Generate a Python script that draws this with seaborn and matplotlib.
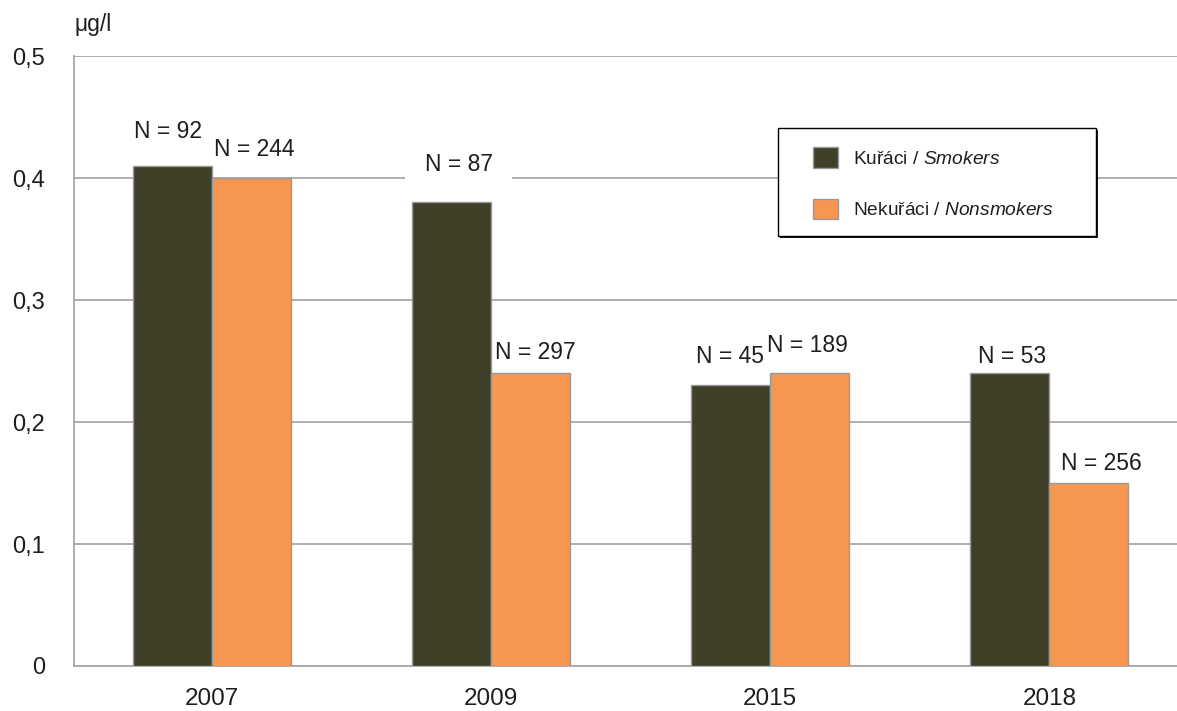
import pandas as pd
import seaborn as sns
import matplotlib.pyplot as plt
from matplotlib.patches import Rectangle

# Data
years = ['2007', '2009', '2015', '2018']
smokers = [0.41, 0.38, 0.23, 0.24]
nonsmokers = [0.40, 0.24, 0.24, 0.15]
n_smokers = [92, 87, 45, 53]
n_nonsmokers = [244, 297, 189, 256]
groups = ['Kuřáci / $\\it{Smokers}$', 'Nekuřáci / $\\it{Nonsmokers}$']
yticks = [0, 0.1, 0.2, 0.3, 0.4, 0.5]
ytick_labels = ['0', '0,1', '0,2', '0,3', '0,4', '0,5']

# label offsets in pixels (dx, dy) from each bar top, and white box padding
off_smokers = [(-4, 34), (7, 38), (-1, 29), (2, 17)]
off_nonsmokers = [(3, 28), (5, 21), (-2, 28), (12, 20)]
pad_smokers = [1.5, 14, 1.5, 1.5]
pad_nonsmokers = [1.5, 1.5, 1.5, 1.5]

df = pd.DataFrame({
    'year': years * 2,
    'value': smokers + nonsmokers,
    'group': [groups[0]] * 4 + [groups[1]] * 4,
})

sns.set_style('white')
plt.rcParams['font.family'] = ['Liberation Sans', 'DejaVu Sans']
plt.rcParams['mathtext.fontset'] = 'custom'
plt.rcParams['mathtext.rm'] = 'Liberation Sans'
plt.rcParams['mathtext.it'] = 'Liberation Sans:italic'

W, H = 1177, 711
grid_col = '#A8A8A8'
txt_col = '#1E1E1E'

fig = plt.figure(figsize=(W / 100, H / 100), dpi=100)
ax = fig.add_axes([74 / W, 45 / H, (1189 - 74) / W, 610 / H])

sns.barplot(data=df, x='year', y='value', hue='group',
            palette=['#404029', '#F79650'], saturation=1, width=0.566,
            edgecolor='#9A9A9A', linewidth=1, ax=ax, zorder=3)

ax.set_xlim(-0.494, 3.5)
ax.set_ylim(0, 0.5)
ax.set_yticks(yticks)
ax.set_yticklabels(ytick_labels)
ax.set_xlabel('')
ax.set_ylabel('')
ax.yaxis.grid(True, color=grid_col, linewidth=1.3, zorder=0)
ax.set_axisbelow(True)
for s in ['top', 'right']:
    ax.spines[s].set_visible(False)
for s in ['left', 'bottom']:
    ax.spines[s].set_color(grid_col)
    ax.spines[s].set_linewidth(1.3)
ax.tick_params(axis='y', length=8, width=1.3, color=grid_col, pad=13,
               labelsize=17, labelcolor=txt_col)
ax.tick_params(axis='x', length=0, pad=16, labelsize=17.5, labelcolor=txt_col)

# N labels
for cont, ns, offs, pads in zip(ax.containers, [n_smokers, n_nonsmokers],
                                [off_smokers, off_nonsmokers],
                                [pad_smokers, pad_nonsmokers]):
    for bar, n, (dx, dy), p in zip(cont, ns, offs, pads):
        ax.annotate(f'N = {n}', (bar.get_x() + bar.get_width() / 2, bar.get_height()),
                    xytext=(dx, dy), textcoords='offset pixels',
                    ha='center', va='center', fontsize=16.5, color=txt_col,
                    bbox=dict(facecolor='white', edgecolor='none', pad=p),
                    zorder=5)

# legend box with shadow, drawn as figure patches
fig.add_artist(Rectangle((780 / W, 1 - 238 / H), 318 / W, 108 / H,
                         transform=fig.transFigure, facecolor='#1A1A1A',
                         edgecolor='none', zorder=2))
fig.add_artist(Rectangle((778 / W, 1 - 236 / H), 318 / W, 108 / H,
                         transform=fig.transFigure, facecolor='white',
                         edgecolor='black', linewidth=1, zorder=3))

handles = [cont[0] for cont in ax.containers]
ax.get_legend().remove()
leg = fig.legend(handles, groups, loc='upper left',
                 bbox_to_anchor=(813 / W, 1 - 147 / H),
                 fontsize=13.8, frameon=False, borderpad=0, borderaxespad=0,
                 handlelength=1.3, handleheight=1.3, handletextpad=0.8,
                 labelspacing=1.6)
leg.set_zorder(4)
for t in leg.get_texts():
    t.set_color(txt_col)

fig.text(74 / W, 1 - 25 / H, 'μg/l', ha='left', va='center',
         fontsize=16.5, color=txt_col)

plt.savefig('out.png', dpi=100)
